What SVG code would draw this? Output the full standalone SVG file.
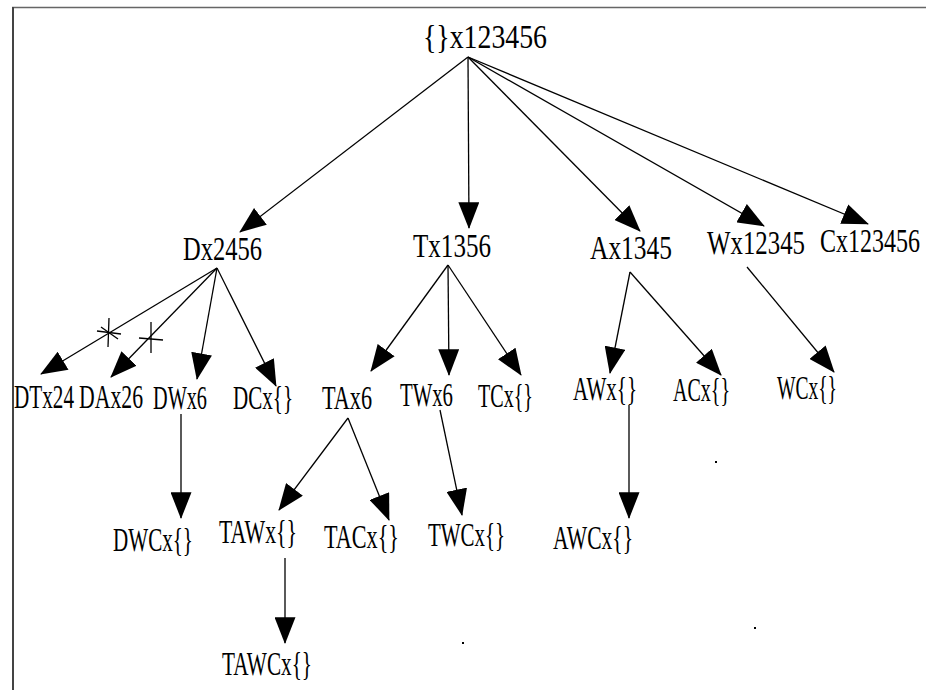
<svg xmlns="http://www.w3.org/2000/svg" width="926" height="690" viewBox="0 0 926 690">
  <style>
    .lbl { font-family: "Liberation Serif", "DejaVu Serif", serif; font-size: 33px; fill: #000; }
    .edge { stroke: #000; stroke-width: 1.3; fill: none; marker-end: url(#head); }
    .star { stroke: #000; stroke-width: 1.3; }
  </style>
  <defs>
    <marker id="head" markerUnits="userSpaceOnUse" viewBox="0 0 28 22" refX="27" refY="11" markerWidth="27" markerHeight="21" orient="auto">
      <path d="M0,0 L28,11 L0,22 Z" fill="#000"/>
    </marker>
  </defs>

  <!-- frame -->
  <line x1="12" y1="7.5" x2="926" y2="7.5" stroke="#666" stroke-width="1.5"/>
  <line x1="13" y1="7" x2="13" y2="690" stroke="#444" stroke-width="2"/>

  <g id="connectors">
    <!-- from root -->
    <line class="edge" x1="468" y1="57" x2="240" y2="232"/>
    <line class="edge" x1="468" y1="57" x2="469" y2="228"/>
    <line class="edge" x1="468" y1="57" x2="640" y2="231"/>
    <line class="edge" x1="468" y1="57" x2="764" y2="226"/>
    <line class="edge" x1="468" y1="57" x2="868" y2="224"/>
    <!-- from Dx2456 -->
    <line class="edge" x1="217" y1="268" x2="41" y2="374"/>
    <line class="edge" x1="217" y1="268" x2="111" y2="377"/>
    <line class="edge" x1="217" y1="268" x2="197" y2="379"/>
    <line class="edge" x1="217" y1="268" x2="276" y2="386"/>
    <!-- from Tx1356 -->
    <line class="edge" x1="448" y1="265" x2="371" y2="371"/>
    <line class="edge" x1="448" y1="265" x2="449" y2="375"/>
    <line class="edge" x1="448" y1="265" x2="521" y2="375"/>
    <!-- from Ax1345 -->
    <line class="edge" x1="630" y1="272" x2="610" y2="373"/>
    <line class="edge" x1="630" y1="272" x2="721" y2="375"/>
    <!-- from Wx12345 -->
    <line class="edge" x1="747" y1="267" x2="834" y2="372"/>
    <!-- fourth level -->
    <line class="edge" x1="181" y1="414" x2="181" y2="518"/>
    <line class="edge" x1="348" y1="418" x2="279" y2="510"/>
    <line class="edge" x1="348" y1="418" x2="389" y2="520"/>
    <line class="edge" x1="440" y1="410" x2="462" y2="515"/>
    <line class="edge" x1="629" y1="405" x2="629" y2="518"/>
    <line class="edge" x1="285" y1="558" x2="285" y2="643"/>
    <!-- cut marks on the DTx24 and DAx26 edges -->
    <g class="star">
      <line x1="109" y1="318" x2="108" y2="347"/>
      <line x1="97" y1="331" x2="121" y2="334"/>
      <line x1="101" y1="327" x2="118" y2="339"/>
    </g>
    <g class="star">
      <line x1="151" y1="322" x2="151" y2="353"/>
      <line x1="139" y1="338" x2="163" y2="340"/>
    </g>
  </g>

  <g id="n-root"><text class="lbl" x="423" y="48" textLength="124" lengthAdjust="spacingAndGlyphs">{}x123456</text></g>
  <g id="n-D"><text class="lbl" x="183" y="260" textLength="79" lengthAdjust="spacingAndGlyphs">Dx2456</text></g>
  <g id="n-T"><text class="lbl" x="413" y="257" textLength="78" lengthAdjust="spacingAndGlyphs">Tx1356</text></g>
  <g id="n-A"><text class="lbl" x="590" y="259" textLength="82" lengthAdjust="spacingAndGlyphs">Ax1345</text></g>
  <g id="n-W"><text class="lbl" x="707" y="254" textLength="98" lengthAdjust="spacingAndGlyphs">Wx12345</text></g>
  <g id="n-C"><text class="lbl" x="820" y="252" textLength="100" lengthAdjust="spacingAndGlyphs">Cx123456</text></g>

  <g id="n-DT"><text class="lbl" x="14" y="408" textLength="60" lengthAdjust="spacingAndGlyphs">DTx24</text></g>
  <g id="n-DA"><text class="lbl" x="79" y="408" textLength="64" lengthAdjust="spacingAndGlyphs">DAx26</text></g>
  <g id="n-DW"><text class="lbl" x="153" y="409" textLength="54" lengthAdjust="spacingAndGlyphs">DWx6</text></g>
  <g id="n-DC"><text class="lbl" x="233" y="409" textLength="60" lengthAdjust="spacingAndGlyphs">DCx{}</text></g>
  <g id="n-TA"><text class="lbl" x="322" y="409" textLength="50" lengthAdjust="spacingAndGlyphs">TAx6</text></g>
  <g id="n-TW"><text class="lbl" x="400" y="406" textLength="53" lengthAdjust="spacingAndGlyphs">TWx6</text></g>
  <g id="n-TC"><text class="lbl" x="478" y="407" textLength="55" lengthAdjust="spacingAndGlyphs">TCx{}</text></g>
  <g id="n-AW"><text class="lbl" x="573" y="400" textLength="64" lengthAdjust="spacingAndGlyphs">AWx{}</text></g>
  <g id="n-AC"><text class="lbl" x="673" y="401" textLength="57" lengthAdjust="spacingAndGlyphs">ACx{}</text></g>
  <g id="n-WC"><text class="lbl" x="777" y="399" textLength="60" lengthAdjust="spacingAndGlyphs">WCx{}</text></g>

  <g id="n-DWC"><text class="lbl" x="113" y="551" textLength="80" lengthAdjust="spacingAndGlyphs">DWCx{}</text></g>
  <g id="n-TAW"><text class="lbl" x="219" y="543" textLength="78" lengthAdjust="spacingAndGlyphs">TAWx{}</text></g>
  <g id="n-TAC"><text class="lbl" x="324" y="548" textLength="75" lengthAdjust="spacingAndGlyphs">TACx{}</text></g>
  <g id="n-TWC"><text class="lbl" x="428" y="546" textLength="77" lengthAdjust="spacingAndGlyphs">TWCx{}</text></g>
  <g id="n-AWC"><text class="lbl" x="553" y="549" textLength="80" lengthAdjust="spacingAndGlyphs">AWCx{}</text></g>
  <g id="n-TAWC"><text class="lbl" x="222" y="675" textLength="90" lengthAdjust="spacingAndGlyphs">TAWCx{}</text></g>

  <!-- specks -->
  <rect x="715" y="461" width="2" height="2" fill="#000"/>
  <rect x="754" y="627" width="2" height="2" fill="#000"/>
  <rect x="462" y="642" width="2" height="2" fill="#000"/>
</svg>
